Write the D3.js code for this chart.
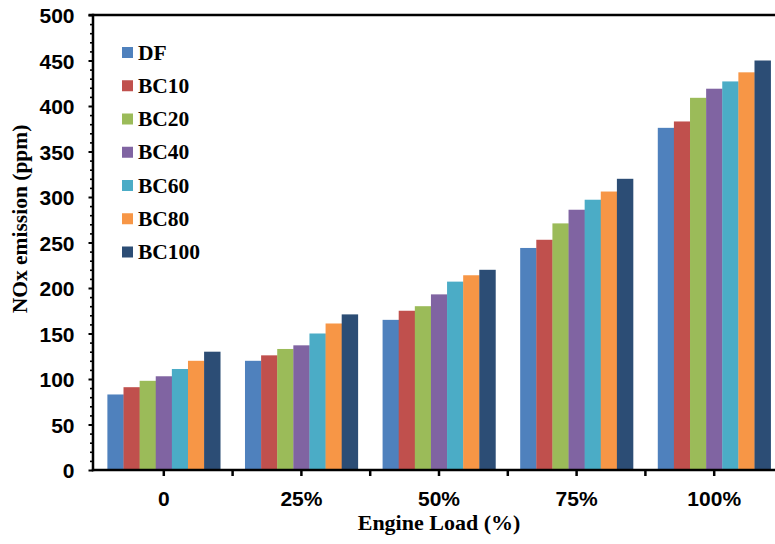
<!DOCTYPE html>
<html>
<head>
<meta charset="utf-8">
<script src="https://cdn.jsdelivr.net/npm/d3@7"></script>
<style>
  html, body { margin: 0; padding: 0; background: #fff; }
  svg { display: block; font-family: "Liberation Serif", "Times New Roman", serif; font-weight: bold; }
</style>
</head>
<body>
<svg id="chart" width="775" height="544"></svg>
<script>
// Engine loads (categories)
const loads = ["0", "25%", "50%", "75%", "100%"];

// Fuel blends (series) and their fill colours
const blends = ["DF", "BC10", "BC20", "BC40", "BC60", "BC80", "BC100"];
const blendColors = ["#4F81BD", "#C0504D", "#9BBB59", "#8064A2", "#4BACC6", "#F79646", "#2C4D75"];

// NOx emission (ppm) per blend, one value per engine load
const DF    = [83, 120, 165, 244, 376];
const BC10  = [91, 126, 175, 253, 383];
const BC20  = [98, 133, 180, 271, 409];
const BC40  = [103, 137, 193, 286, 419];
const BC60  = [111, 150, 207, 297, 427];
const BC80  = [120, 161, 214, 306, 437];
const BC100 = [130, 171, 220, 320, 450];
const seriesValues = [DF, BC10, BC20, BC40, BC60, BC80, BC100];

// Axis tick values
const yMajorTicks = [0, 50, 100, 150, 200, 250, 300, 350, 400, 450, 500];
const yMinorTicks = d3.range(0, 501, 10).filter(v => v % 50 !== 0);

const svg = d3.select("#chart");
const W = 775;
const axisX = 93, topY = 15, baseY = 470;

const y = d3.scaleLinear().domain([0, 500]).range([baseY, topY]);
const x0 = d3.scaleBand().domain(loads).range([95, 783]).paddingInner(0.18).paddingOuter(0.09);
const x1 = d3.scaleBand().domain(blends).range([0, x0.bandwidth()]);

// Bars
const groups = svg.append("g").selectAll("g")
  .data(loads)
  .join("g")
  .attr("transform", d => `translate(${x0(d)},0)`);

groups.selectAll("rect")
  .data((load, i) => blends.map((b, j) => ({ blend: b, value: seriesValues[j][i], color: blendColors[j] })))
  .join("rect")
  .attr("x", d => x1(d.blend))
  .attr("width", x1.bandwidth() + 0.3)
  .attr("y", d => y(d.value))
  .attr("height", d => baseY - y(d.value))
  .attr("fill", d => d.color);

// Y axis: major ticks with labels, then minor ticks
const yAxis = svg.append("g")
  .attr("transform", `translate(${axisX},0)`)
  .call(d3.axisLeft(y).tickValues(yMajorTicks).tickSize(4.5).tickPadding(14).tickFormat(d3.format("d")));
yAxis.select(".domain").remove();
yAxis.selectAll(".tick line").attr("stroke", "#000").attr("stroke-width", 2);
yAxis.selectAll(".tick text")
  .attr("fill", "#000")
  .style("font-size", "21px")
  .attr("dy", "0.38em");

const yMinor = svg.append("g")
  .attr("transform", `translate(${axisX},0)`)
  .call(d3.axisLeft(y).tickValues(yMinorTicks).tickSize(3).tickFormat(""));
yMinor.select(".domain").remove();
yMinor.selectAll(".tick line").attr("stroke", "#000").attr("stroke-width", 1.6);

// X axis: ticks at group centres (labelled) and at group boundaries
const xAxis = svg.append("g")
  .attr("transform", `translate(0,${baseY})`)
  .call(d3.axisBottom(x0).tickSize(6).tickPadding(15));
xAxis.select(".domain").remove();
xAxis.selectAll(".tick line").attr("stroke", "#000").attr("stroke-width", 2.5);
xAxis.selectAll(".tick text")
  .attr("fill", "#000")
  .style("font-size", "21px");

const boundaries = loads.map(d => x0(d) + x0.bandwidth() / 2 - x0.step() / 2).slice(1);
svg.append("g").selectAll("line")
  .data(boundaries)
  .join("line")
  .attr("x1", d => d).attr("x2", d => d)
  .attr("y1", baseY).attr("y2", baseY + 6)
  .attr("stroke", "#000").attr("stroke-width", 2.5);

// Frame lines: left axis, bottom axis, top border
svg.append("line").attr("x1", axisX).attr("x2", axisX).attr("y1", topY - 1.2).attr("y2", baseY + 1.2)
  .attr("stroke", "#000").attr("stroke-width", 2.5);
svg.append("line").attr("x1", axisX - 1.2).attr("x2", W).attr("y1", baseY).attr("y2", baseY)
  .attr("stroke", "#000").attr("stroke-width", 2.5);
svg.append("line").attr("x1", axisX - 4.5).attr("x2", W).attr("y1", topY).attr("y2", topY)
  .attr("stroke", "#000").attr("stroke-width", 2.5);

// Axis titles
svg.append("text")
  .attr("transform", "translate(27,219) rotate(-90)")
  .attr("text-anchor", "middle")
  .style("font-size", "21.5px")
  .text("NOx emission (ppm)");

svg.append("text")
  .attr("x", 439).attr("y", 530)
  .attr("text-anchor", "middle")
  .style("font-size", "22px")
  .text("Engine Load (%)");

// Legend
const legend = svg.append("g").selectAll("g")
  .data(blends)
  .join("g")
  .attr("transform", (d, i) => `translate(122,${52 + i * 33.25})`);
legend.append("rect")
  .attr("x", 0).attr("y", -5)
  .attr("width", 11).attr("height", 11)
  .attr("fill", (d, i) => blendColors[i]);
legend.append("text")
  .attr("x", 16).attr("y", 7.5)
  .style("font-size", "21.5px")
  .text(d => d);
</script>
</body>
</html>
